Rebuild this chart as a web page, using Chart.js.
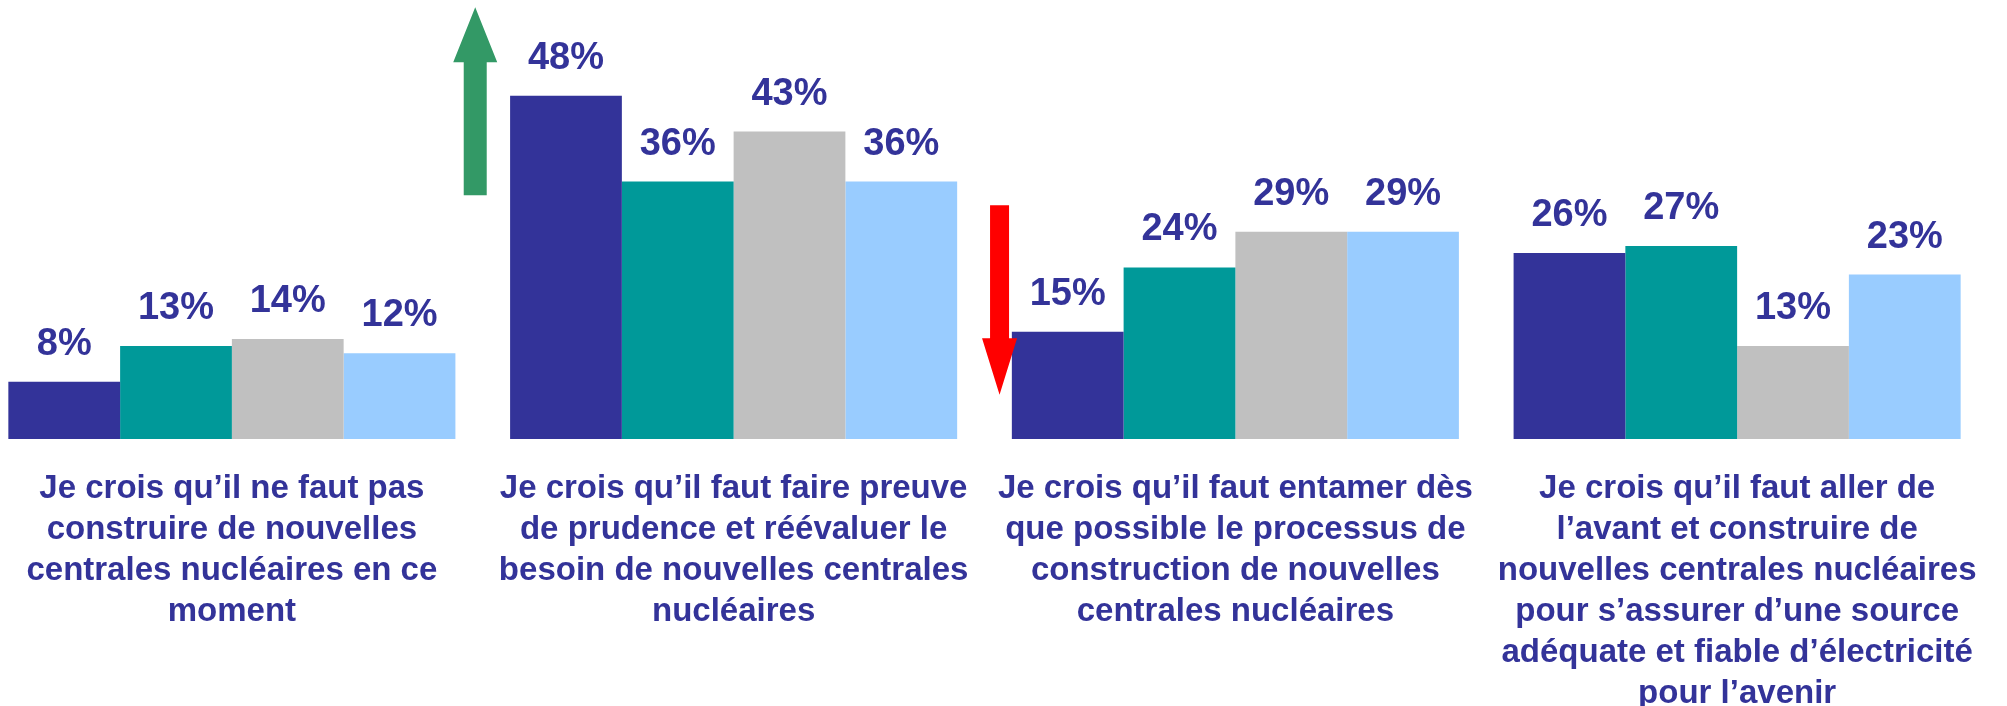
<!DOCTYPE html>
<html lang="fr">
<head>
<meta charset="utf-8">
<title>Construction de nouvelles centrales nucléaires</title>
<script src="https://cdn.jsdelivr.net/npm/chart.js@4.4.1/dist/chart.umd.min.js"></script>
<style>
    html, body { margin: 0; padding: 0; background: #fff; overflow: hidden; }
    body { width: 2007px; height: 706px; position: relative; }
    #wrap { position: absolute; left: -19px; top: 0; width: 2007px; height: 706px; }
</style>
</head>
<body>
<div id="wrap"><canvas id="opinionChart"></canvas></div>
<script>
// Catégories (libellés sur plusieurs lignes)
const categories = [
    ['Je crois qu\u2019il ne faut pas', 'construire de nouvelles', 'centrales nucléaires en ce', 'moment'],
    ['Je crois qu\u2019il faut faire preuve', 'de prudence et réévaluer le', 'besoin de nouvelles centrales', 'nucléaires'],
    ['Je crois qu\u2019il faut entamer dès', 'que possible le processus de', 'construction de nouvelles', 'centrales nucléaires'],
    ['Je crois qu\u2019il faut aller de', 'l\u2019avant et construire de', 'nouvelles centrales nucléaires', 'pour s\u2019assurer d\u2019une source', 'adéquate et fiable d\u2019électricité', 'pour l\u2019avenir']
];

// Valeurs (%) par série
const serie1 = [8, 48, 15, 26];
const serie2 = [13, 36, 24, 27];
const serie3 = [14, 43, 29, 13];
const serie4 = [12, 36, 29, 23];

const colors = ['#333399', '#009999', '#C0C0C0', '#99CCFF'];
const textColor = '#333399';
const fontFamily = '"Liberation Sans", Arial, Helvetica, sans-serif';

// Flèches de tendance (décoration)
const arrows = [
    { x: 0.485, from: 34.1, to: 60.4, head: 52.7, shaft: 23, width: 44, color: '#339966' },
    { x: 1.530, from: 32.7, to: 6.2, head: 14.1, shaft: 19, width: 35, color: '#FF0000' }
];

const valueLabels = {
    id: 'valueLabels',
    afterDatasetsDraw(chart) {
        const ctx = chart.ctx;
        ctx.save();
        ctx.font = 'bold 38px ' + fontFamily;
        ctx.fillStyle = textColor;
        ctx.textAlign = 'center';
        ctx.textBaseline = 'alphabetic';
        chart.data.datasets.forEach((ds, i) => {
            chart.getDatasetMeta(i).data.forEach((bar, j) => {
                ctx.fillText(ds.data[j] + '%', bar.x, bar.y - 27);
            });
        });
        ctx.restore();
    }
};

const trendArrows = {
    id: 'trendArrows',
    afterDatasetsDraw(chart) {
        const ctx = chart.ctx;
        const xs = chart.scales.x, ys = chart.scales.y;
        ctx.save();
        arrows.forEach(a => {
            const cx = xs.getPixelForValue(a.x);
            const y0 = ys.getPixelForValue(a.from);
            const y1 = ys.getPixelForValue(a.to);
            const yh = ys.getPixelForValue(a.head);
            ctx.fillStyle = a.color;
            ctx.beginPath();
            ctx.moveTo(cx - a.shaft / 2, y0);
            ctx.lineTo(cx - a.shaft / 2, yh);
            ctx.lineTo(cx - a.width / 2, yh);
            ctx.lineTo(cx, y1);
            ctx.lineTo(cx + a.width / 2, yh);
            ctx.lineTo(cx + a.shaft / 2, yh);
            ctx.lineTo(cx + a.shaft / 2, y0);
            ctx.closePath();
            ctx.fill();
        });
        ctx.restore();
    }
};

const series = [serie1, serie2, serie3, serie4];

new Chart(document.getElementById('opinionChart'), {
    type: 'bar',
    data: {
        labels: categories,
        datasets: series.map((data, i) => ({
            label: 'Série ' + (i + 1),
            data: data,
            backgroundColor: colors[i],
            borderWidth: 0,
            categoryPercentage: 0.891,
            barPercentage: 1.0
        }))
    },
    options: {
        responsive: true,
        maintainAspectRatio: false,
        animation: false,
        layout: { padding: { top: 10, left: 0, right: 0, bottom: 0 } },
        plugins: {
            legend: { display: false },
            tooltip: { enabled: false }
        },
        scales: {
            x: {
                // tickLength sert d'espacement vertical (padding horizontal nul)
                grid: { display: false, drawTicks: true, tickLength: 29 },
                border: { display: false },
                ticks: {
                    color: textColor,
                    font: { family: fontFamily, size: 33, weight: 'bold', lineHeight: 41 / 33 },
                    padding: 0,
                    maxRotation: 0,
                    minRotation: 0,
                    autoSkip: false
                },
                afterFit(scale) { scale.height = 267; }
            },
            y: {
                display: false,
                min: 0,
                max: 60
            }
        }
    },
    plugins: [valueLabels, trendArrows]
});
</script>
</body>
</html>
